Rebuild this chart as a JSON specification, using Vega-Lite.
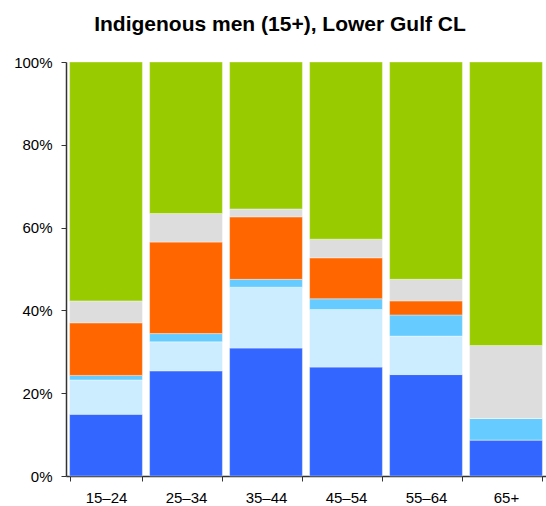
{
  "$schema": "https://vega.github.io/schema/vega-lite/v6.json",
  "width": 480,
  "height": 414,
  "autosize": {"type": "none"},
  "padding": {"left": 66, "top": 62, "right": 0, "bottom": 30},
  "background": "white",
  "title": {
    "text": "Indigenous men (15+), Lower Gulf CL",
    "font": "Liberation Sans",
    "fontSize": 21,
    "fontWeight": "bold",
    "color": "#000000",
    "anchor": "middle",
    "dx": -26,
    "offset": 20
  },
  "config": {"view": {"stroke": null}},
  "data": {
    "values": [
      {"age": "15–24", "cat": "A", "o": 1, "v": 14.9},
      {"age": "15–24", "cat": "B", "o": 2, "v": 8.3},
      {"age": "15–24", "cat": "C", "o": 3, "v": 1.1},
      {"age": "15–24", "cat": "D", "o": 4, "v": 12.7},
      {"age": "15–24", "cat": "E", "o": 5, "v": 5.3},
      {"age": "15–24", "cat": "F", "o": 6, "v": 57.7},
      {"age": "25–34", "cat": "A", "o": 1, "v": 25.4},
      {"age": "25–34", "cat": "B", "o": 2, "v": 7.0},
      {"age": "25–34", "cat": "C", "o": 3, "v": 2.0},
      {"age": "25–34", "cat": "D", "o": 4, "v": 22.1},
      {"age": "25–34", "cat": "E", "o": 5, "v": 6.9},
      {"age": "25–34", "cat": "F", "o": 6, "v": 36.6},
      {"age": "35–44", "cat": "A", "o": 1, "v": 30.9},
      {"age": "35–44", "cat": "B", "o": 2, "v": 14.7},
      {"age": "35–44", "cat": "C", "o": 3, "v": 1.9},
      {"age": "35–44", "cat": "D", "o": 4, "v": 15.1},
      {"age": "35–44", "cat": "E", "o": 5, "v": 1.9},
      {"age": "35–44", "cat": "F", "o": 6, "v": 35.5},
      {"age": "45–54", "cat": "A", "o": 1, "v": 26.3},
      {"age": "45–54", "cat": "B", "o": 2, "v": 13.9},
      {"age": "45–54", "cat": "C", "o": 3, "v": 2.6},
      {"age": "45–54", "cat": "D", "o": 4, "v": 9.9},
      {"age": "45–54", "cat": "E", "o": 5, "v": 4.5},
      {"age": "45–54", "cat": "F", "o": 6, "v": 42.8},
      {"age": "55–64", "cat": "A", "o": 1, "v": 24.5},
      {"age": "55–64", "cat": "B", "o": 2, "v": 9.3},
      {"age": "55–64", "cat": "C", "o": 3, "v": 5.1},
      {"age": "55–64", "cat": "D", "o": 4, "v": 3.4},
      {"age": "55–64", "cat": "E", "o": 5, "v": 5.2},
      {"age": "55–64", "cat": "F", "o": 6, "v": 52.5},
      {"age": "65+", "cat": "A", "o": 1, "v": 8.7},
      {"age": "65+", "cat": "B", "o": 2, "v": 0},
      {"age": "65+", "cat": "C", "o": 3, "v": 5.2},
      {"age": "65+", "cat": "D", "o": 4, "v": 0},
      {"age": "65+", "cat": "E", "o": 5, "v": 17.6},
      {"age": "65+", "cat": "F", "o": 6, "v": 68.5}
    ]
  },
  "mark": {"type": "bar", "stroke": "#ffffff", "strokeWidth": 0.6, "strokeOpacity": 0.6},
  "encoding": {
    "x": {
      "field": "age",
      "type": "nominal",
      "sort": null,
      "title": null,
      "scale": {"paddingInner": 0.09, "paddingOuter": 0.045},
      "axis": {
        "labelAngle": 0,
        "labelFont": "Liberation Sans",
        "labelFontSize": 15,
        "labelColor": "#000000",
        "labelPadding": 9,
        "tickBand": "extent",
        "tickColor": "#333333",
        "tickSize": 5,
        "domainColor": "#333333",
        "domainWidth": 1.5
      }
    },
    "y": {
      "field": "v",
      "type": "quantitative",
      "stack": "zero",
      "title": null,
      "scale": {"domain": [0, 100], "nice": false},
      "axis": {
        "values": [0, 20, 40, 60, 80, 100],
        "labelExpr": "datum.value + '%'",
        "grid": false,
        "labelFont": "Liberation Sans",
        "labelFontSize": 15,
        "labelColor": "#000000",
        "labelPadding": 9,
        "tickColor": "#333333",
        "tickSize": 5,
        "domainColor": "#333333",
        "domainWidth": 1.5
      }
    },
    "color": {
      "field": "cat",
      "type": "nominal",
      "legend": null,
      "scale": {
        "domain": ["A", "B", "C", "D", "E", "F"],
        "range": ["#3366FF", "#CCECFF", "#66CCFF", "#FF6600", "#DDDDDD", "#99CC00"]
      }
    },
    "order": {"field": "o", "type": "quantitative"}
  }
}
